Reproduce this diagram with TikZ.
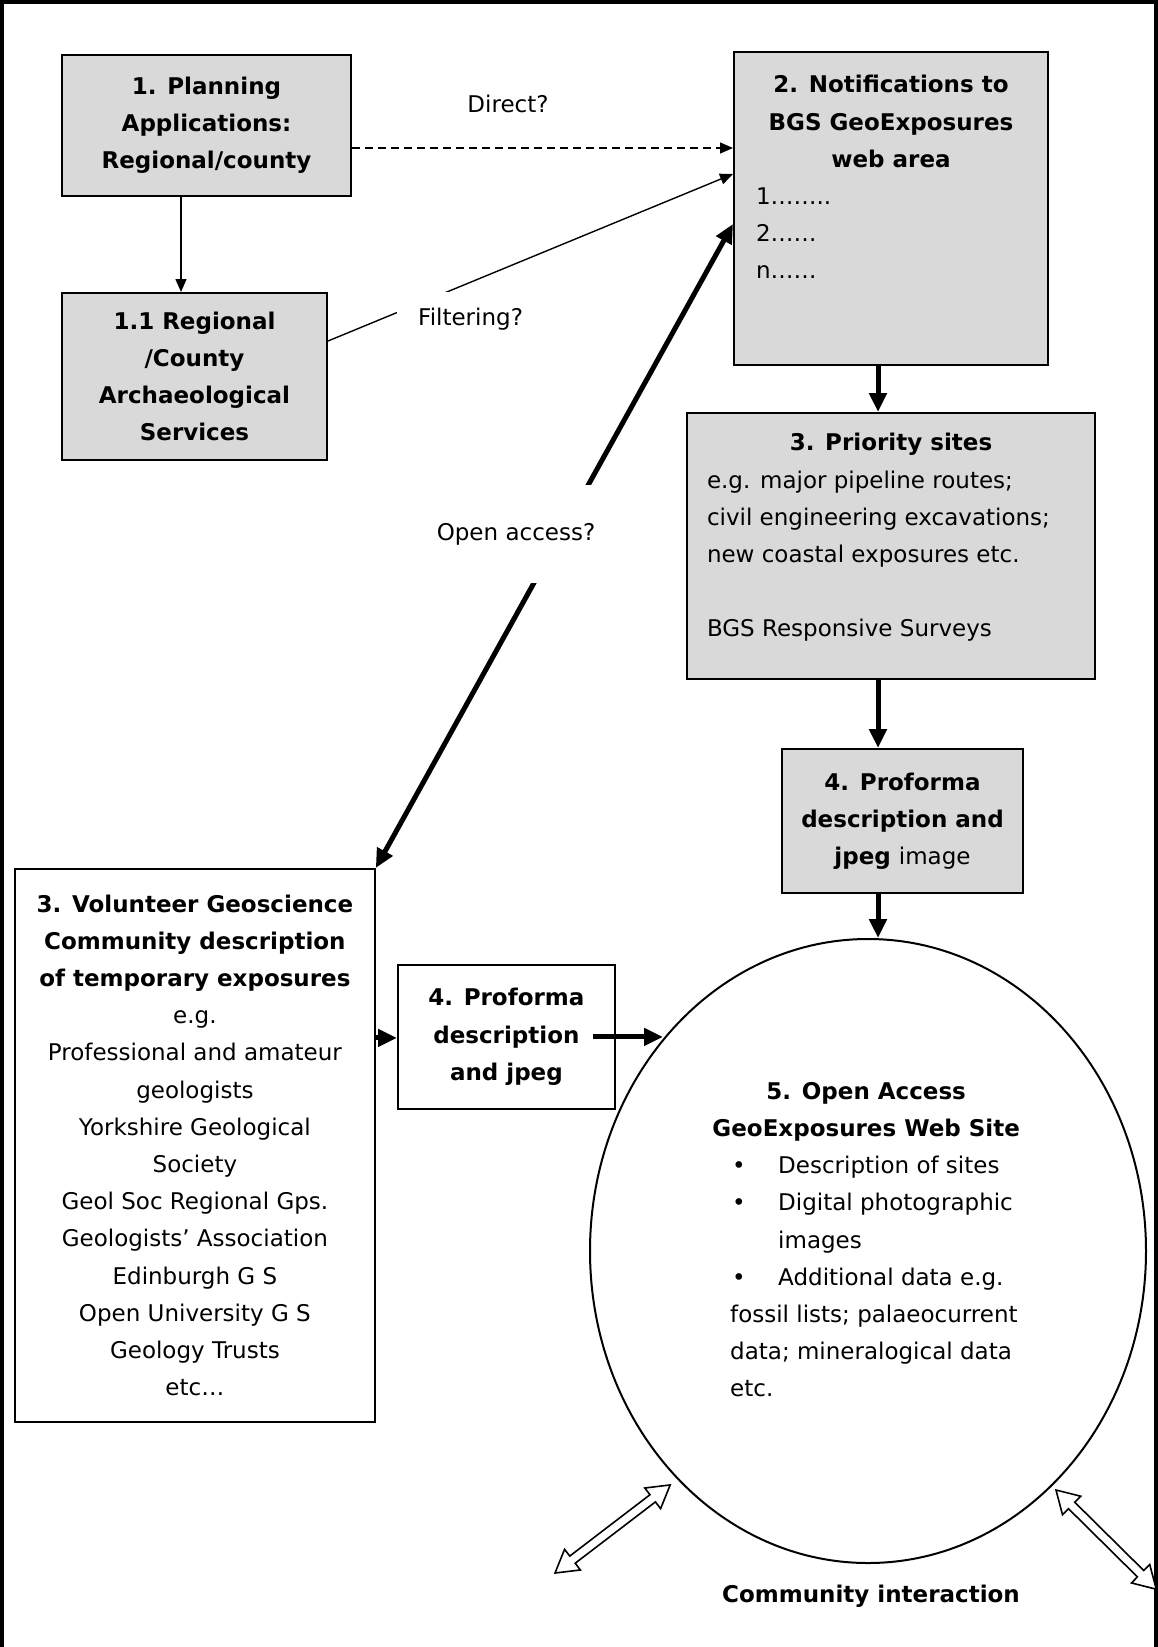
\documentclass[tikz,border=0pt]{standalone}
\usepackage{fontspec}
\setmainfont{DejaVu Sans}
\usetikzlibrary{positioning,calc,arrows.meta,shapes.geometric}
\definecolor{boxgrey}{RGB}{217,217,217}
\newcommand{\diagfont}{\fontsize{23}{37.2}\selectfont}

\tikzset{
  greybox/.style={draw, fill=boxgrey, line width=2pt, anchor=north west, align=center, inner sep=0pt, font=\diagfont\bfseries},
  whitebox/.style={draw, fill=white, line width=1.8pt, anchor=north west, align=center, inner sep=0pt},
  thinarrow/.style={line width=1.4pt, -{Triangle[length=13pt,width=11pt]}},
  thickarrow/.style={line width=5pt, -{Triangle[length=19pt,width=17pt]}},
  thickboth/.style={line width=5pt, {Triangle[length=19pt,width=17pt]}-{Triangle[length=19pt,width=17pt]}},
  hollowarrow/.style={draw, line width=1.6pt, fill=white},
  gaplabel/.style={fill=white, inner sep=0pt},
}

\begin{document}
\begin{tikzpicture}[x=1pt, y=-1pt, font=\diagfont]
    \useasboundingbox (0,0) rectangle (1158,1647);

    % Frame (open at the bottom)
    \draw[line width=4pt] (2,1647) -- (2,2) -- (1156,2) -- (1156,1647);

    % Helper coordinates
    \coordinate (lft) at (181,0);
    \coordinate (spine) at (878,0);
    \coordinate (direct) at (0,148);

    % Left column
    \node[greybox, minimum width=289pt, minimum height=141pt] (n1) at (61,54)
        {1. Planning\\Applications:\\Regional/county};
    \node[greybox, minimum width=265pt, minimum height=167pt] (n11) at (61,292)
        {1.1 Regional\\/County\\Archaeological\\Services};

    % Right column
    \node[greybox, minimum width=314pt, minimum height=313pt] (n2) at (733,51)
        {\parbox[t][266pt][t]{270pt}{\centering 2. Notifications to\\BGS GeoExposures\\web area\par
         \raggedright\mdseries 1……..\\2……\\n……}};
    \node[greybox, minimum width=408pt, minimum height=266pt] (n3) at (686,412)
        {\parbox[t][225pt][t]{368pt}{\centering 3. Priority sites\par
         \raggedright\mdseries e.g. major pipeline routes;\\civil engineering excavations;\\new coastal exposures etc.\\[37.2pt]BGS Responsive Surveys}};
    \node[greybox, minimum width=241pt, minimum height=144pt] (n4r) at (781,748)
        {4. Proforma\\description and\\jpeg {\mdseries image}};

    % Volunteer route
    \node[whitebox, minimum width=360pt, minimum height=553pt] (nv) at (14,868)
        {\textbf{3. Volunteer Geoscience}\\\textbf{Community description}\\\textbf{of temporary exposures}\\e.g.\\Professional and amateur\\geologists\\Yorkshire Geological\\Society\\Geol Soc Regional Gps.\\Geologists’ Association\\Edinburgh G S\\Open University G S\\Geology Trusts\\etc…};
    \node[whitebox, minimum width=217pt, minimum height=144pt, font=\diagfont\bfseries] (n4s) at (397,964)
        {4. Proforma\\description\\and jpeg};

    % Web site
    \node[ellipse, draw, line width=2pt, minimum width=556pt, minimum height=624pt, inner sep=0pt] (web) at (868,1251) {};
    \node[anchor=north west, inner sep=0pt, align=left] (webtext) at (730,1082)
        {\makebox[272pt][c]{\bfseries 5. Open Access}\\
         \makebox[272pt][c]{\bfseries GeoExposures Web Site}\\
         \hspace*{2pt}\makebox[46pt][l]{•}Description of sites\\
         \hspace*{2pt}\makebox[46pt][l]{•}Digital photographic\\
         \hspace*{48pt}images\\
         \hspace*{2pt}\makebox[46pt][l]{•}Additional data e.g.\\
         fossil lists; palaeocurrent\\
         data; mineralogical data\\
         etc.};
    \node[font=\diagfont\bfseries] (community) at (871,1596) {Community interaction};

    % Connectors
    \draw[thinarrow] (n1.south -| lft) -- (n11.north -| lft);
    \draw[thinarrow, dash pattern=on 8pt off 5pt] (n1.east |- direct) -- (n2.west |- direct);
    \node (lbldirect) at (508,104) {Direct?};
    \draw[thinarrow] ([yshift=35.5pt]n11.east) -- ([yshift=34.5pt]n2.west);
    \node[gaplabel, anchor=north west, minimum height=54pt, inner xsep=21pt] (lblfilter) at (397,292) {Filtering?};

    \draw[thickboth] (nv.north east) -- ([yshift=-15.5pt]n2.west);
    \node[gaplabel, minimum height=98pt, minimum width=175pt] (lblopen) at (516,534) {Open access?};

    \draw[thickarrow] (n2.south -| spine) -- (n3.north -| spine);
    \draw[thickarrow] (n3.south -| spine) -- (n4r.north -| spine);
    \draw[thickarrow] (n4r.south -| spine) -- (web.north -| spine);

    \coordinate (volout) at ([yshift=107.5pt]nv.east);
    \draw[thickarrow] (volout) -- (volout -| n4s.west);
    \coordinate (jpegout) at ([xshift=-23pt]n4s.east);
    \draw[thickarrow] (jpegout) -- (jpegout -| web.134);

    % Community interaction arrows
    \draw[hollowarrow, shift={(555,1573)}, rotate=37.4]
        (0,0) -- (22,13) -- (22,4.5) -- (123,4.5) -- (123,13) -- (145,0)
        -- (123,-13) -- (123,-4.5) -- (22,-4.5) -- (22,-13) -- cycle;
    \draw[hollowarrow, shift={(1056,1490)}, rotate=-44.7]
        (0,0) -- (22,13) -- (22,4.5) -- (119,4.5) -- (119,13) -- (141,0)
        -- (119,-13) -- (119,-4.5) -- (22,-4.5) -- (22,-13) -- cycle;
\end{tikzpicture}
\end{document}
